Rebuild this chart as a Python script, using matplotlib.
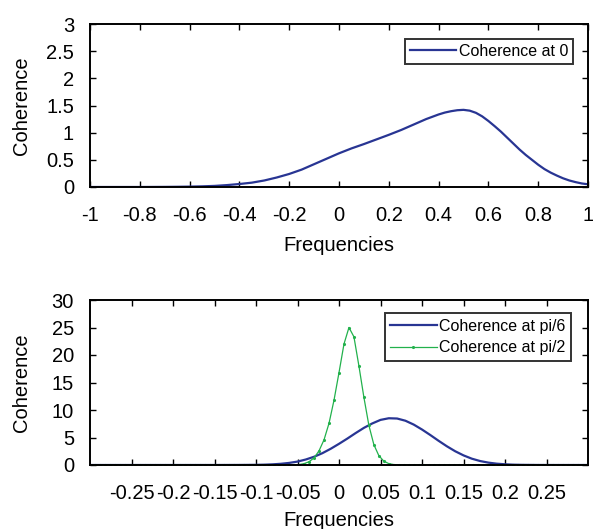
import numpy as np
import matplotlib
matplotlib.use("Agg")
import matplotlib.pyplot as plt

plt.rcParams['font.family'] = ['Liberation Sans', 'DejaVu Sans']

# ---- Data: top panel (Coherence at 0) ----
freq_top = [-1.0, -0.95, -0.9, -0.85, -0.8, -0.75, -0.7, -0.65, -0.6, -0.55,
            -0.5, -0.45, -0.4, -0.35, -0.3, -0.25, -0.2, -0.15, -0.1, -0.05,
            0.0, 0.05, 0.1, 0.15, 0.2, 0.25, 0.3, 0.35, 0.4, 0.425,
            0.45, 0.475, 0.5, 0.525, 0.55, 0.575, 0.6, 0.625, 0.65, 0.675,
            0.7, 0.725, 0.75, 0.775, 0.8, 0.825, 0.85, 0.875, 0.9, 0.925,
            0.95, 0.975, 1.0]
coh_0 = [0.0, 0.0, 0.0, 0.0, 0.0, 0.001, 0.002, 0.004, 0.007, 0.012,
         0.02, 0.035, 0.055, 0.08, 0.12, 0.175, 0.24, 0.32, 0.42, 0.52,
         0.62, 0.71, 0.79, 0.875, 0.96, 1.05, 1.15, 1.25, 1.335, 1.37,
         1.395, 1.413, 1.42, 1.405, 1.365, 1.30, 1.215, 1.12, 1.02, 0.91,
         0.80, 0.69, 0.59, 0.50, 0.41, 0.33, 0.265, 0.21, 0.16, 0.12,
         0.09, 0.065, 0.05]

# ---- Data: bottom panel ----
freq_pi6 = [-0.3, -0.25, -0.2, -0.15, -0.12, -0.1, -0.09, -0.08, -0.07, -0.06,
            -0.05, -0.04, -0.03, -0.02, -0.01, 0.0, 0.01, 0.02, 0.03, 0.04,
            0.05, 0.06, 0.07, 0.08, 0.09, 0.10, 0.11, 0.12, 0.13, 0.14,
            0.15, 0.16, 0.17, 0.18, 0.19, 0.20, 0.21, 0.22, 0.24, 0.26, 0.3]
coh_pi6 = [0.0, 0.0, 0.0, 0.002, 0.01, 0.03, 0.06, 0.12, 0.22, 0.38,
           0.62, 1.0, 1.5, 2.15, 2.95, 3.85, 4.8, 5.8, 6.75, 7.55,
           8.2, 8.5, 8.45, 8.05, 7.35, 6.45, 5.45, 4.4, 3.4, 2.5,
           1.75, 1.15, 0.72, 0.43, 0.24, 0.13, 0.06, 0.03, 0.005, 0.0, 0.0]

freq_pi2 = np.linspace(-0.3, 0.3, 101)
coh_pi2 = ([0.0] * 41 +
           [0.02, 0.08, 0.25, 0.6, 1.3, 2.6, 4.6, 7.6, 11.8, 16.8, 22.0,
            25.0, 23.3, 18.0, 12.3, 7.2, 3.7, 1.7, 0.7, 0.25, 0.08, 0.02] +
           [0.0] * 38)

blue = '#283593'
green = '#22b14c'

W, H = 593, 529
fig = plt.figure(figsize=(W / 100, H / 100), dpi=100)

def px_axes(l, t, r, b):
    return fig.add_axes([l / W, 1 - b / H, (r - l) / W, (b - t) / H])

ax1 = px_axes(90, 24, 588, 187)
ax2 = px_axes(90, 300, 588, 465)

fs = 14.5
for ax in (ax1, ax2):
    for s in ax.spines.values():
        s.set_linewidth(1.4)
    ax.tick_params(direction='in', top=True, right=True, length=4, width=1.0,
                   labelsize=fs)
    ax.tick_params(axis='x', pad=13.5)
    ax.tick_params(axis='y', pad=11.5)
    ax.set_ylabel('Coherence', fontsize=fs)
    ax.set_xlabel('Frequencies', fontsize=fs)

ax1.plot(freq_top, coh_0, color=blue, lw=1.6, label='Coherence at 0')
ax1.set_xlim(-1, 1)
ax1.set_ylim(0, 3)
ax1.set_xticks([-1, -0.8, -0.6, -0.4, -0.2, 0, 0.2, 0.4, 0.6, 0.8, 1])
ax1.set_xticklabels(['-1', '-0.8', '-0.6', '-0.4', '-0.2', '0', '0.2', '0.4', '0.6', '0.8', '1'])
ax1.set_yticks([0, 0.5, 1, 1.5, 2, 2.5, 3])
ax1.set_yticklabels(['0', '0.5', '1', '1.5', '2', '2.5', '3'])
ax1.yaxis.set_label_coords(-0.118, 0.5)
ax1.xaxis.labelpad = 8

ax2.plot(freq_pi6, coh_pi6, color=blue, lw=1.6, label='Coherence at pi/6')
ax2.plot(freq_pi2, coh_pi2, color=green, lw=0.9, marker='.', markersize=2.5,
         label='Coherence at pi/2')
ax2.set_xlim(-0.3, 0.3)
ax2.set_ylim(0, 30)
ax2.set_xticks([-0.25, -0.2, -0.15, -0.1, -0.05, 0, 0.05, 0.1, 0.15, 0.2, 0.25])
ax2.set_xticklabels(['-0.25', '-0.2', '-0.15', '-0.1', '-0.05', '0', '0.05', '0.1', '0.15', '0.2', '0.25'])
ax2.set_yticks([0, 5, 10, 15, 20, 25, 30])
ax2.set_yticklabels(['0', '5', '10', '15', '20', '25', '30'])
ax2.yaxis.set_label_coords(-0.118, 0.5)
ax2.xaxis.labelpad = 6

leg_kw = dict(fontsize=11.5, frameon=True, fancybox=False, handlelength=2.9,
              handletextpad=0.15, borderaxespad=0, loc='upper right')
l1 = ax1.legend(bbox_to_anchor=(1 - 15 / 498, 1 - 15 / 163), borderpad=0.3,
                labelspacing=0.3, **leg_kw)
l2 = ax2.legend(bbox_to_anchor=(1 - 17 / 498, 1 - 13 / 165), borderpad=0.35,
                labelspacing=0.42, **leg_kw)
for l in (l1, l2):
    l.get_frame().set_edgecolor('black')
    l.get_frame().set_linewidth(1.4)

fig.savefig('out.png', dpi=100)
